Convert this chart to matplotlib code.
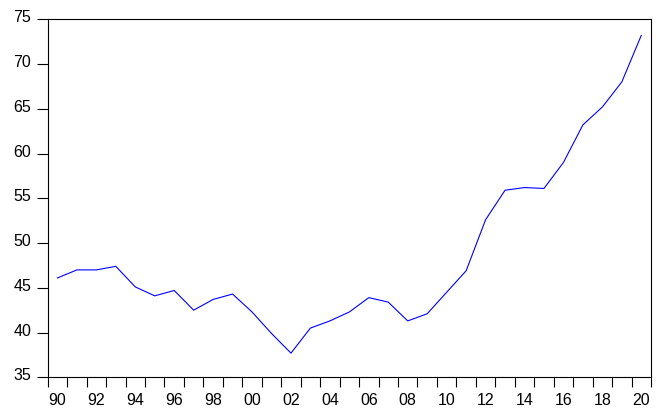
import matplotlib
matplotlib.use("Agg")
import matplotlib.pyplot as plt
import matplotlib.transforms as mtransforms
import numpy as np

plt.rcParams['font.family'] = ['Liberation Sans', 'DejaVu Sans']

# annual series 1990-2020
years = list(range(1990, 2021))
values = [46.1, 47.0, 47.0, 47.4, 45.1, 44.1, 44.7, 42.5, 43.7, 44.3,
          42.3, 39.9, 37.7, 40.5, 41.3, 42.3, 43.9, 43.4, 41.3, 42.1,
          44.5, 46.9, 52.6, 55.9, 56.2, 56.1, 59.0, 63.2, 65.2, 68.0, 73.2]
y_ticks = [35, 40, 45, 50, 55, 60, 65, 70, 75]
x_labels = ["%02d" % (y % 100) for y in years if y % 2 == 0]

fig = plt.figure(figsize=(6.7, 4.19), dpi=100)
ax = fig.add_axes([47.7 / 670, 1 - 377.3 / 419, (651 - 47.7) / 670, (377.3 - 19.3) / 419])

pos = np.arange(len(years))
ax.plot(pos, values, color="#0000ff", lw=0.8)

ax.set_xlim(-0.5, len(years) - 0.5)
ax.set_ylim(35, 75)

# year boundary ticks, labels centred on the even years
ax.set_xticks(np.arange(len(years) + 1) - 0.5)
ax.set_xticklabels([])
ax.set_xticks([p for p, y in zip(pos, years) if y % 2 == 0], minor=True)
ax.set_xticklabels(x_labels, minor=True)
ax.tick_params(axis="x", which="major", direction="out", length=7, width=0.8)
ax.tick_params(axis="x", which="minor", length=0, pad=11, labelsize=11.5)

ax.set_yticks(y_ticks)
ax.tick_params(axis="y", direction="out", length=8, width=0.8, pad=4, labelsize=11.5)
off = mtransforms.ScaledTranslation(0, 3 / 100, fig.dpi_scale_trans)
for lab in ax.get_yticklabels():
    lab.set_transform(lab.get_transform() + off)

for s in ax.spines.values():
    s.set_linewidth(0.8)

fig.savefig("out.png", dpi=100)
